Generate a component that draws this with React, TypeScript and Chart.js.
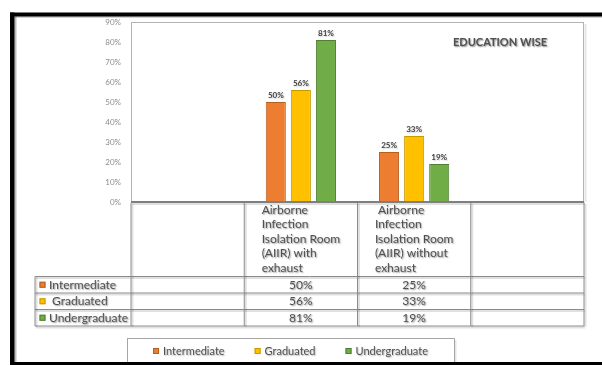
import { useEffect, useRef } from "react";
import { Chart, registerables } from "chart.js";

Chart.register(...registerables);

// Category labels, already broken into the lines shown in the table header
const categories: string[][] = [
  [""],
  ["Airborne", "Infection", "Isolation Room", "(AIIR) with", "exhaust"],
  [" Airborne", "Infection", "Isolation Room", "(AIIR) without", "exhaust"],
  [""],
];

const seriesNames = ["Intermediate", " Graduated", "Undergraduate"];
const intermediate: (number | null)[] = [null, 50, 25, null];
const graduated: (number | null)[] = [null, 56, 33, null];
const undergraduate: (number | null)[] = [null, 81, 19, null];

const yMax = 90;
const yStep = 10;
const chartTitle = "EDUCATION WISE";

const fills = ["#ED7D31", "#FFC000", "#70AD47"];
const edges = ["#B4601F", "#C99700", "#507E32"];

const FONT = "Lato, 'Open Sans', sans-serif";
const TEXT = "#505050";
const LINE = "#8a8a8a";

const pct = (v: number | null) => (v == null ? "" : `${v}%`);

function softShadow(ctx: CanvasRenderingContext2D, a = 0.4) {
  ctx.shadowColor = `rgba(0,0,0,${a})`;
  ctx.shadowBlur = 1.5;
  ctx.shadowOffsetX = 1;
  ctx.shadowOffsetY = 1;
}

function noShadow(ctx: CanvasRenderingContext2D) {
  ctx.shadowColor = "rgba(0,0,0,0)";
  ctx.shadowBlur = 0;
  ctx.shadowOffsetX = 0;
  ctx.shadowOffsetY = 0;
}

function hLine(ctx: CanvasRenderingContext2D, x1: number, x2: number, y: number, w = 1, c = LINE) {
  ctx.strokeStyle = "rgba(0,0,0,0.12)";
  ctx.lineWidth = w + 1;
  ctx.beginPath();
  ctx.moveTo(x1 + 1, y + 1.5);
  ctx.lineTo(x2 + 1, y + 1.5);
  ctx.stroke();
  ctx.strokeStyle = c;
  ctx.lineWidth = w;
  ctx.beginPath();
  ctx.moveTo(x1, y);
  ctx.lineTo(x2, y);
  ctx.stroke();
}

function vLine(ctx: CanvasRenderingContext2D, x: number, y1: number, y2: number, w = 1, c = LINE) {
  ctx.strokeStyle = "rgba(0,0,0,0.12)";
  ctx.lineWidth = w + 1;
  ctx.beginPath();
  ctx.moveTo(x + 1.5, y1 + 1);
  ctx.lineTo(x + 1.5, y2 + 1);
  ctx.stroke();
  ctx.strokeStyle = c;
  ctx.lineWidth = w;
  ctx.beginPath();
  ctx.moveTo(x, y1);
  ctx.lineTo(x, y2);
  ctx.stroke();
}

function keySquare(ctx: CanvasRenderingContext2D, x: number, cy: number, i: number) {
  ctx.fillStyle = fills[i];
  ctx.fillRect(x, cy - 3, 6, 6);
  ctx.strokeStyle = edges[i];
  ctx.lineWidth = 1;
  ctx.strokeRect(x + 0.5, cy - 2.5, 5, 5);
}

const sheetPlugin = {
  id: "sheet",
  beforeDraw(chart: Chart) {
    const ctx = chart.ctx;
    ctx.save();
    ctx.fillStyle = "#ffffff";
    ctx.fillRect(0, 0, chart.width, chart.height);
    ctx.restore();
  },
  afterDatasetsDraw(chart: Chart) {
    const ctx = chart.ctx;
    const area = chart.chartArea;
    ctx.save();
    // plot frame
    ctx.strokeStyle = "rgba(0,0,0,0.1)";
    ctx.lineWidth = 2;
    ctx.beginPath();
    ctx.moveTo(area.right + 1.5, area.top + 2);
    ctx.lineTo(area.right + 1.5, area.bottom);
    ctx.stroke();
    ctx.strokeStyle = "#b3b3b3";
    ctx.lineWidth = 1;
    ctx.strokeRect(area.left + 0.5, area.top + 0.5, area.right - area.left - 1, area.bottom - area.top);
    // category axis line
    hLine(ctx, area.left, area.right, area.bottom, 2, "#7f7f7f");

    // value labels over the bars
    ctx.font = `bold 8px ${FONT}`;
    ctx.fillStyle = "#404040";
    ctx.textAlign = "center";
    ctx.textBaseline = "alphabetic";
    softShadow(ctx, 0.2);
    chart.data.datasets.forEach((ds, di) => {
      const meta = chart.getDatasetMeta(di);
      meta.data.forEach((bar: any, i: number) => {
        const v = ds.data[i] as number | null;
        if (v == null) return;
        ctx.fillText(pct(v), bar.x, bar.y - 4);
      });
    });

    // title
    ctx.font = `bold 11px ${FONT}`;
    ctx.textAlign = "left";
    ctx.fillStyle = TEXT;
    softShadow(ctx, 0.45);
    ctx.fillText(chartTitle, area.right - 131, area.top + 24);
    noShadow(ctx);
    ctx.restore();
  },
  afterDraw(chart: Chart) {
    const ctx = chart.ctx;
    const area = chart.chartArea;
    const n = categories.length;
    const cw = (area.right - area.left) / n;
    const xScale = chart.scales.x;
    const tableLeft = 35;
    const headTop = area.bottom;
    const headBottom = area.bottom + 74.5;
    const rowH = 16.5;
    const rows = [intermediate, graduated, undergraduate];
    const tableBottom = headBottom + rowH * rows.length;

    ctx.save();

    // table grid
    for (let r = 0; r <= rows.length; r++) {
      hLine(ctx, tableLeft, area.right, headBottom + r * rowH);
    }
    vLine(ctx, tableLeft, headBottom, tableBottom);
    for (let i = 0; i <= n; i++) {
      vLine(ctx, area.left + i * cw, headTop + 1, tableBottom);
    }

    // header text
    ctx.font = `12px ${FONT}`;
    ctx.fillStyle = TEXT;
    ctx.textBaseline = "middle";
    ctx.textAlign = "left";
    softShadow(ctx);
    categories.forEach((lines, i) => {
      const cx = xScale.getPixelForValue(i);
      const w = Math.max(...lines.map((l) => ctx.measureText(l).width));
      lines.forEach((l, k) => {
        ctx.fillText(l, cx - w / 2, headTop + 8 + k * 14.5);
      });
    });

    // data rows
    rows.forEach((vals, r) => {
      const cy = headBottom + r * rowH + rowH / 2;
      noShadow(ctx);
      keySquare(ctx, tableLeft + 4.5, cy, r);
      softShadow(ctx);
      ctx.fillStyle = TEXT;
      ctx.textAlign = "left";
      ctx.fillText(seriesNames[r], tableLeft + 14, cy);
      ctx.textAlign = "center";
      vals.forEach((v, i) => {
        if (v == null) return;
        ctx.fillText(pct(v), xScale.getPixelForValue(i), cy);
      });
    });
    noShadow(ctx);

    // legend
    const lgLeft = 127;
    const lgRight = 454;
    const lgTop = 338;
    ctx.strokeStyle = "rgba(0,0,0,0.1)";
    ctx.lineWidth = 2;
    ctx.beginPath();
    ctx.moveTo(lgRight + 1.5, lgTop + 2);
    ctx.lineTo(lgRight + 1.5, chart.height);
    ctx.stroke();
    ctx.strokeStyle = "#a6a6a6";
    ctx.lineWidth = 1;
    ctx.strokeRect(lgLeft + 0.5, lgTop + 0.5, lgRight - lgLeft, 40);
    ctx.font = `11px ${FONT}`;
    const gap = 30;
    const widths = seriesNames.map((s) => 6 + 4 + ctx.measureText(s.trim()).width);
    const total = widths.reduce((a, b) => a + b, 0) + gap * (widths.length - 1);
    let x = (lgLeft + lgRight) / 2 - total / 2;
    const ly = lgTop + 13;
    seriesNames.forEach((s, i) => {
      noShadow(ctx);
      keySquare(ctx, x, ly, i);
      softShadow(ctx, 0.3);
      ctx.fillStyle = TEXT;
      ctx.textAlign = "left";
      ctx.textBaseline = "middle";
      ctx.fillText(s.trim(), x + 10, ly);
      x += widths[i] + gap;
    });
    noShadow(ctx);

    // black page frame with its inner shade
    const W = chart.width;
    const H = chart.height;
    ctx.fillStyle = "#000";
    ctx.fillRect(10, 12.5, W - 10, 4);
    ctx.fillRect(10, 12.5, 4.5, H - 12.5);
    ctx.fillRect(10, H - 3, W - 10, 3);
    let g = ctx.createLinearGradient(0, 16.5, 0, 18.5);
    g.addColorStop(0, "rgba(0,0,0,0.35)");
    g.addColorStop(1, "rgba(0,0,0,0)");
    ctx.fillStyle = g;
    ctx.fillRect(14.5, 16.5, W - 14.5, 2);
    g = ctx.createLinearGradient(14.5, 0, 17.5, 0);
    g.addColorStop(0, "rgba(0,0,0,0.4)");
    g.addColorStop(1, "rgba(0,0,0,0)");
    ctx.fillStyle = g;
    ctx.fillRect(14.5, 16.5, 3, H - 19.5);
    ctx.restore();
  },
};

export default function App() {
  const ref = useRef<HTMLCanvasElement>(null);

  useEffect(() => {
    if (!ref.current) return;
    const chart = new Chart(ref.current, {
      type: "bar",
      data: {
        labels: categories,
        datasets: [intermediate, graduated, undergraduate].map((d, i) => ({
          label: seriesNames[i],
          data: d,
          backgroundColor: fills[i],
          borderColor: edges[i],
          borderWidth: 1,
          categoryPercentage: 0.664,
          barPercentage: 0.8,
        })),
      },
      options: {
        animation: false,
        responsive: false,
        devicePixelRatio: 1,
        layout: { padding: { top: 22, right: 18, bottom: 163, left: 0 } },
        plugins: {
          legend: { display: false },
          tooltip: { enabled: false },
        },
        scales: {
          x: { display: false },
          y: {
            min: 0,
            max: yMax,
            grid: { display: false, drawTicks: false },
            border: { display: false },
            ticks: {
              stepSize: yStep,
              padding: 10,
              color: "#8c8c8c",
              font: { family: FONT, size: 8 },
              callback: (v) => `${v}%`,
            },
            afterFit: (scale: any) => {
              scale.width = 131;
            },
          },
        },
      },
      plugins: [sheetPlugin],
    });
    return () => chart.destroy();
  }, []);

  return (
    <div style={{ position: "fixed", left: 0, top: 0, width: 602, height: 365, background: "#fff" }}>
      <canvas ref={ref} width={602} height={365} />
    </div>
  );
}
